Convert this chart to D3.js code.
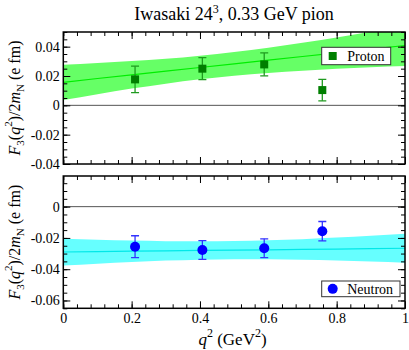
<!DOCTYPE html>
<html>
<head>
<meta charset="utf-8">
<script src="https://cdn.jsdelivr.net/npm/d3@7"></script>
<style>
  html, body { margin: 0; padding: 0; background: #fff; }
  svg { display: block; font-family: "Liberation Serif", "Times New Roman", serif; }
</style>
</head>
<body>
<svg id="chart" width="409" height="350"></svg>
<script>
// ---------- data ----------
const xTickValues = [0, 0.2, 0.4, 0.6, 0.8, 1];
const xTickLabels = ["0", "0.2", "0.4", "0.6", "0.8", "1"];
const topYTickValues = [-0.04, -0.02, 0, 0.02, 0.04];
const topYTickLabels = ["-0.04", "-0.02", "0", "0.02", "0.04"];
const botYTickValues = [-0.06, -0.04, -0.02, 0];
const botYTickLabels = ["-0.06", "-0.04", "-0.02", "0"];

const q2 = [0.21, 0.407, 0.588, 0.758];
const protonF3 = [0.0177, 0.0250, 0.0279, 0.0104];
const protonErr = [0.0090, 0.0075, 0.0078, 0.0073];
const neutronF3 = [-0.0256, -0.0277, -0.0266, -0.0157];
const neutronErr = [0.0070, 0.0060, 0.0060, 0.0062];

const bandX = [0, 0.1, 0.2, 0.3, 0.4, 0.5, 0.6, 0.7, 0.8, 0.9, 1.0];
const protonFit = [0.0157, 0.0183, 0.0208, 0.0233, 0.0258, 0.0283, 0.0308, 0.0333, 0.0358, 0.0383, 0.0408];
const protonLo  = [0.0036, 0.0076, 0.0114, 0.0148, 0.0177, 0.0202, 0.0221, 0.0236, 0.0250, 0.0260, 0.0268];
const protonHi  = [0.0276, 0.0289, 0.0302, 0.0317, 0.0338, 0.0363, 0.0393, 0.0427, 0.0463, 0.0502, 0.0545];
const neutronFit = [-0.0290, -0.0288, -0.0285, -0.0283, -0.0280, -0.0278, -0.0276, -0.0273, -0.0271, -0.0268, -0.0266];
const neutronLo  = [-0.0377, -0.0365, -0.0354, -0.0345, -0.0339, -0.0336, -0.0336, -0.0339, -0.0344, -0.0350, -0.0358];
const neutronHi  = [-0.0205, -0.0211, -0.0217, -0.0221, -0.0222, -0.0220, -0.0215, -0.0208, -0.0198, -0.0186, -0.0174];

// ---------- layout ----------
const svg = d3.select("#chart");
const L = 63.3, R = 405;
const x = d3.scaleLinear().domain([0, 1]).range([L, R]);

const panels = [
  { top: 32, bottom: 164, domain: [-0.04, 0.05], yTicks: topYTickValues, yLabels: topYTickLabels,
    minorStep: 0.005, fit: protonFit, lo: protonLo, hi: protonHi, vals: protonF3, errs: protonErr,
    bandColor: "#66ff66", lineColor: "#00ee00", markColor: "#007f00", errColor: "#1f9a1f",
    marker: "square", legend: "Proton", legendBox: [321.7, 47.3, 69, 17.4], xLabels: false },
  { top: 176, bottom: 308.3, domain: [-0.065, 0.0196], yTicks: botYTickValues, yLabels: botYTickLabels,
    minorStep: 0.005, fit: neutronFit, lo: neutronLo, hi: neutronHi, vals: neutronF3, errs: neutronErr,
    bandColor: "#66ffff", lineColor: "#00e8e8", markColor: "#0000ff", errColor: "#3333ff",
    marker: "circle", legend: "Neutron", legendBox: [321.7, 281, 78.3, 15.7], xLabels: true }
];

function range(a, b, s) {
  const out = []; const n = Math.round((b - a) / s);
  for (let i = 0; i <= n; i++) out.push(+(a + i * s).toFixed(6));
  return out;
}
const xMinor = range(0, 1, 0.04);

panels.forEach((p, pi) => {
  const y = d3.scaleLinear().domain(p.domain).range([p.bottom, p.top]);
  const g = svg.append("g");
  const clipId = "clip" + pi;
  svg.append("clipPath").attr("id", clipId).append("rect")
    .attr("x", L).attr("y", p.top).attr("width", R - L).attr("height", p.bottom - p.top);

  const plot = g.append("g").attr("clip-path", `url(#${clipId})`);
  const idx = d3.range(bandX.length);

  // band
  plot.append("path")
    .attr("d", d3.area().x(i => x(bandX[i])).y0(i => y(p.lo[i])).y1(i => y(p.hi[i])).curve(d3.curveMonotoneX)(idx))
    .attr("fill", p.bandColor);
  // fit line
  plot.append("path")
    .attr("d", d3.line().x(i => x(bandX[i])).y(i => y(p.fit[i]))(idx))
    .attr("fill", "none").attr("stroke", p.lineColor).attr("stroke-width", 1.2);
  // zero line
  plot.append("line").attr("x1", L).attr("x2", R).attr("y1", y(0)).attr("y2", y(0))
    .attr("stroke", "#555").attr("stroke-width", 1);

  // error bars
  const eb = plot.append("g").attr("stroke", p.errColor).attr("stroke-width", 1.3);
  q2.forEach((q, i) => {
    const cx = x(q), y1 = y(p.vals[i] + p.errs[i]), y2 = y(p.vals[i] - p.errs[i]);
    eb.append("line").attr("x1", cx).attr("x2", cx).attr("y1", y1).attr("y2", y2);
    eb.append("line").attr("x1", cx - 4).attr("x2", cx + 4).attr("y1", y1).attr("y2", y1);
    eb.append("line").attr("x1", cx - 4).attr("x2", cx + 4).attr("y1", y2).attr("y2", y2);
  });
  // markers
  q2.forEach((q, i) => {
    if (p.marker === "square") {
      plot.append("rect").attr("x", x(q) - 4).attr("y", y(p.vals[i]) - 4)
        .attr("width", 8).attr("height", 8).attr("fill", p.markColor);
    } else {
      plot.append("circle").attr("cx", x(q)).attr("cy", y(p.vals[i])).attr("r", 5).attr("fill", p.markColor);
    }
  });

  // axes (inward ticks on all sides)
  const yMinor = range(p.domain[0], p.domain[1] + 1e-9, p.minorStep).filter(v => v <= p.domain[1] + 1e-9);
  const mk = (axis, tx, ty) => {
    const a = g.append("g").attr("transform", `translate(${tx},${ty})`).call(axis);
    a.select(".domain").remove();
    a.selectAll("line").attr("stroke", "#000").attr("stroke-width", 1);
    return a;
  };
  mk(d3.axisBottom(x).tickValues(xMinor).tickSize(-4).tickFormat(""), 0, p.bottom);
  mk(d3.axisTop(x).tickValues(xMinor).tickSize(-4).tickFormat(""), 0, p.top);
  mk(d3.axisLeft(y).tickValues(yMinor).tickSize(-4).tickFormat(""), L, 0);
  mk(d3.axisRight(y).tickValues(yMinor).tickSize(-4).tickFormat(""), R, 0);
  const xb = mk(d3.axisBottom(x).tickValues(xTickValues).tickSize(-7).tickPadding(5)
    .tickFormat((d, i) => p.xLabels ? xTickLabels[i] : ""), 0, p.bottom);
  mk(d3.axisTop(x).tickValues(xTickValues).tickSize(-7).tickFormat(""), 0, p.top);
  const yl = mk(d3.axisLeft(y).tickValues(p.yTicks).tickSize(-7).tickPadding(3.5)
    .tickFormat((d, i) => p.yLabels[i]), L, 0);
  mk(d3.axisRight(y).tickValues(p.yTicks).tickSize(-7).tickFormat(""), R, 0);
  [xb, yl].forEach(a => a.selectAll("text")
    .attr("font-family", "Liberation Serif").attr("font-size", 14).attr("fill", "#000"));

  // frame
  g.append("rect").attr("x", L).attr("y", p.top).attr("width", R - L).attr("height", p.bottom - p.top)
    .attr("fill", "none").attr("stroke", "#000").attr("stroke-width", 1.5);

  // legend
  const [lx, ly, lw, lh] = p.legendBox;
  g.append("rect").attr("x", lx).attr("y", ly).attr("width", lw).attr("height", lh)
    .attr("fill", "#fff").attr("stroke", "#333").attr("stroke-width", 1);
  if (p.marker === "square") {
    g.append("rect").attr("x", lx + 7).attr("y", ly + lh / 2 - 4).attr("width", 8).attr("height", 8).attr("fill", p.markColor);
  } else {
    g.append("circle").attr("cx", lx + 11).attr("cy", ly + lh / 2).attr("r", 5).attr("fill", p.markColor);
  }
  g.append("text").attr("x", lx + 25.5).attr("y", ly + lh / 2 + 4.8)
    .attr("font-size", 14).text(p.legend);

  // y-axis title
  const cy = (p.top + p.bottom) / 2;
  const t = g.append("text").attr("transform", `translate(20,${cy}) rotate(-90)`)
    .attr("text-anchor", "middle").attr("font-size", 16);
  t.append("tspan").attr("font-style", "italic").text("F");
  t.append("tspan").attr("font-size", 11).attr("dy", 4).text("3");
  t.append("tspan").attr("dy", -4).text("(");
  t.append("tspan").attr("font-style", "italic").text("q");
  t.append("tspan").attr("font-size", 11).attr("dy", -8).text("2");
  t.append("tspan").attr("dy", 8).text(")/2");
  t.append("tspan").attr("font-style", "italic").text("m");
  t.append("tspan").attr("font-size", 11).attr("dy", 4).text("N");
  t.append("tspan").attr("dy", -4).text(" (e fm)");
});

// title
const title = svg.append("text").attr("x", 234).attr("y", 19.5).attr("text-anchor", "middle").attr("font-size", 18);
title.append("tspan").text("Iwasaki 24");
title.append("tspan").attr("font-size", 12).attr("dy", -7).text("3");
title.append("tspan").attr("dy", 7).text(", 0.33 GeV pion");

// x-axis title
const xt = svg.append("text").attr("x", 232.5).attr("y", 345).attr("text-anchor", "middle").attr("font-size", 17);
xt.append("tspan").attr("font-style", "italic").text("q");
xt.append("tspan").attr("font-size", 12).attr("dy", -8).text("2");
xt.append("tspan").attr("dy", 8).text(" (GeV");
xt.append("tspan").attr("font-size", 12).attr("dy", -8).text("2");
xt.append("tspan").attr("dy", 8).text(")");
</script>
</body>
</html>
